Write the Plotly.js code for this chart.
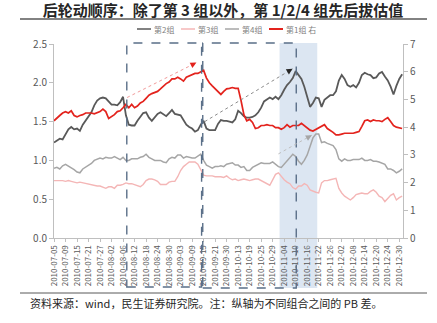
<!DOCTYPE html>
<html><head><meta charset="utf-8">
<script src="https://cdn.plot.ly/plotly-3.0.1.min.js"></script>
<style>html,body{margin:0;padding:0;background:#fff;}#chart{width:437px;height:323px;}</style>
</head><body><div id="chart"></div>
<script>
const dates = [
"2010-07-05","2010-07-06","2010-07-07","2010-07-08","2010-07-09","2010-07-12","2010-07-13","2010-07-14","2010-07-15","2010-07-16",
"2010-07-19","2010-07-20","2010-07-21","2010-07-22","2010-07-23","2010-07-26","2010-07-27","2010-07-28","2010-07-29","2010-07-30",
"2010-08-02","2010-08-03","2010-08-04","2010-08-05","2010-08-06","2010-08-09","2010-08-10","2010-08-11","2010-08-12","2010-08-13",
"2010-08-16","2010-08-17","2010-08-18","2010-08-19","2010-08-20","2010-08-23","2010-08-24","2010-08-25","2010-08-26","2010-08-27",
"2010-08-30","2010-08-31","2010-09-01","2010-09-02","2010-09-03","2010-09-06","2010-09-07","2010-09-08","2010-09-09","2010-09-10",
"2010-09-13","2010-09-14","2010-09-15","2010-09-16","2010-09-17","2010-09-20","2010-09-21","2010-09-27","2010-09-28","2010-09-29",
"2010-09-30","2010-10-08","2010-10-11","2010-10-12","2010-10-13","2010-10-14","2010-10-15","2010-10-18","2010-10-19","2010-10-20",
"2010-10-21","2010-10-22","2010-10-25","2010-10-26","2010-10-27","2010-10-28","2010-10-29","2010-11-01","2010-11-02","2010-11-03",
"2010-11-04","2010-11-05","2010-11-08","2010-11-09","2010-11-10","2010-11-11","2010-11-12","2010-11-15","2010-11-16","2010-11-17",
"2010-11-18","2010-11-19","2010-11-22","2010-11-23","2010-11-24","2010-11-25","2010-11-26","2010-11-29","2010-11-30","2010-12-01",
"2010-12-02","2010-12-03","2010-12-06","2010-12-07","2010-12-08","2010-12-09","2010-12-10","2010-12-13","2010-12-14","2010-12-15",
"2010-12-16","2010-12-17","2010-12-20","2010-12-21","2010-12-22","2010-12-23","2010-12-24","2010-12-27","2010-12-28","2010-12-29",
"2010-12-30","2010-12-31"];
const tickLabels = dates.filter((d, i) => i % 4 === 0);

// 第2组 (left axis)
const group2 = [
1.23,1.26,1.28,1.27,1.33,1.40,1.43,1.40,1.41,1.38,
1.46,1.51,1.57,1.62,1.71,1.77,1.80,1.81,1.80,1.76,
1.72,1.72,1.71,1.75,1.82,1.58,1.46,1.45,1.45,1.51,
1.56,1.61,1.62,1.55,1.51,1.55,1.60,1.62,1.59,1.57,
1.61,1.65,1.60,1.59,1.58,1.52,1.46,1.43,1.41,1.37,
1.39,1.46,1.51,1.41,1.39,1.39,1.39,1.47,1.52,1.51,
1.51,1.50,1.49,1.53,1.64,1.61,1.57,1.55,1.55,1.56,
1.58,1.62,1.68,1.76,1.78,1.81,1.79,1.82,1.79,1.84,
1.91,1.97,2.01,2.06,2.15,2.10,2.05,1.95,1.80,1.69,
1.74,1.81,1.80,1.69,1.78,1.81,1.84,1.84,1.89,2.03,
2.10,2.05,1.97,1.95,1.97,1.94,2.00,2.10,2.13,2.11,
2.10,2.06,2.07,2.12,2.14,2.08,2.03,1.95,1.85,1.96,
2.05,2.11];
// 第3组 (left axis)
const group3 = [
0.74,0.74,0.74,0.74,0.73,0.74,0.73,0.72,0.71,0.72,
0.71,0.70,0.70,0.69,0.68,0.67,0.67,0.65,0.64,0.66,
0.66,0.64,0.68,0.68,0.69,0.71,0.70,0.70,0.69,0.68,
0.66,0.69,0.74,0.76,0.76,0.75,0.73,0.69,0.69,0.69,
0.72,0.73,0.73,0.79,0.87,0.92,0.95,0.98,0.98,0.98,
0.95,0.87,0.81,0.80,0.80,0.80,0.79,0.79,0.79,0.78,
0.80,0.77,0.75,0.76,0.74,0.75,0.76,0.75,0.74,0.75,
0.76,0.76,0.74,0.71,0.70,0.68,0.75,0.82,0.84,0.79,
0.75,0.72,0.70,0.65,0.63,0.67,0.67,0.70,0.68,0.62,
0.60,0.59,0.58,0.71,0.74,0.74,0.75,0.76,0.77,0.64,
0.58,0.54,0.51,0.49,0.52,0.56,0.57,0.58,0.57,0.57,
0.60,0.62,0.59,0.54,0.52,0.47,0.51,0.55,0.57,0.49,
0.52,0.54];
// 第4组 (left axis)
const group4 = [
0.90,0.91,0.89,0.93,0.95,0.93,0.90,0.88,0.85,0.84,
0.89,0.91,0.93,0.96,1.00,1.02,1.03,1.02,1.04,1.03,
1.03,1.05,1.03,1.01,1.04,1.00,1.00,1.02,1.02,1.02,
1.04,1.05,1.08,1.04,1.02,1.00,1.00,1.00,0.98,0.97,
1.02,1.04,1.03,1.07,1.07,1.03,1.05,1.04,1.03,1.03,
1.05,1.08,1.00,0.94,0.92,0.90,0.92,0.92,0.93,0.92,
0.95,0.96,0.97,0.94,0.94,0.91,0.92,0.87,0.87,0.91,
0.93,0.95,0.97,0.96,0.96,0.96,0.98,0.95,0.92,0.91,
0.95,0.99,1.03,1.08,1.05,0.99,0.95,1.00,1.07,1.17,
1.29,1.34,1.34,1.23,1.24,1.22,1.20,1.19,1.14,1.02,
0.99,1.02,1.00,1.00,1.01,1.01,1.01,1.03,1.00,1.00,
1.01,0.99,0.99,0.98,0.97,0.95,0.89,0.89,0.87,0.84,
0.86,0.89];
// 第1组 (right axis)
const group1 = [
4.23,4.34,4.42,4.51,4.56,4.51,4.59,4.42,4.37,4.42,
4.45,4.51,4.51,4.51,4.48,4.51,4.56,4.65,4.56,4.31,
4.37,4.45,4.56,4.59,4.70,4.82,4.70,4.82,4.70,4.76,
4.87,4.93,5.04,5.15,5.21,5.24,5.29,5.38,5.49,5.57,
5.63,5.74,5.74,5.80,5.74,5.66,5.80,5.85,5.91,5.94,
5.94,5.99,6.05,5.77,5.60,5.49,5.38,5.26,5.18,5.29,
5.38,5.40,5.43,5.40,5.40,4.96,4.45,4.23,4.28,4.17,
3.95,3.98,4.06,4.06,4.09,4.06,4.06,3.98,3.98,3.92,
3.98,4.09,4.00,4.06,4.06,4.06,4.14,4.06,4.00,3.89,
3.86,3.92,4.00,4.06,4.09,3.95,3.89,3.81,3.72,3.72,
3.75,3.78,3.78,3.78,3.78,3.81,3.84,4.03,4.23,4.26,
4.20,4.26,4.23,4.23,4.20,4.28,4.34,4.20,4.06,4.00,
3.98,3.95];

const seriesNames = ["第2组", "第3组", "第4组", "第1组 右"];
const seriesColors = ["#595959", "#f4b6b6", "#a6a6a6", "#e3231d"];

// pixel helpers for layout items (plot area: x 54..403, y 44..238)
const L = 54, R = 403, T = 44, B = 238;
const px = v => (v - L) / (R - L);
const py = v => (B - v) / (B - T);

const traces = [
  {x: dates, y: group2, name: seriesNames[0], type: "scatter", mode: "lines", line: {color: seriesColors[0], width: 1.8}},
  {x: dates, y: group3, name: seriesNames[1], type: "scatter", mode: "lines", line: {color: seriesColors[1], width: 1.4}},
  {x: dates, y: group4, name: seriesNames[2], type: "scatter", mode: "lines", line: {color: seriesColors[2], width: 1.5}},
  {x: dates, y: group1, name: seriesNames[3], type: "scatter", mode: "lines", yaxis: "y2", line: {color: seriesColors[3], width: 1.7}}
];

const boxColor = "#5a6f88";
const shapes = [
  {type: "rect", xref: "x", yref: "paper", x0: 78.4, x1: 91.5, y0: py(288), y1: py(43), fillcolor: "#dce6f2", line: {width: 0}, layer: "below"},
  {type: "rect", xref: "x", yref: "paper", x0: 25.3, x1: 51.3, y0: py(287), y1: py(43), line: {color: boxColor, width: 1.4, dash: "dash"}},
  {type: "rect", xref: "x", yref: "paper", x0: 51.7, x1: 84.2, y0: py(288), y1: py(43), line: {color: boxColor, width: 1.4, dash: "dash"}},
  // arrows (dotted bodies)
  {type: "line", xref: "x", yref: "y", x0: 25.4, y0: 1.81, x1: 49.5, y1: 2.26, line: {color: "#f19a9a", width: 1, dash: "dot"}},
  {type: "line", xref: "x", yref: "y", x0: 52.4, y0: 1.50, x1: 82.9, y1: 2.18, line: {color: "#8c8c8c", width: 1, dash: "dot"}},
  {type: "line", xref: "x", yref: "y", x0: 78.0, y0: 1.084, x1: 89.6, y1: 1.325, line: {color: "#bfbfbf", width: 1, dash: "dot"}},
  // title underline and footer line
  {type: "line", xref: "paper", yref: "paper", x0: px(20), x1: px(427), y0: py(19), y1: py(19), line: {color: "#595959", width: 1.5}},
  {type: "line", xref: "paper", yref: "paper", x0: px(20), x1: px(427), y0: py(293), y1: py(293), line: {color: "#595959", width: 1}}
];

// manual legend
const legendX = [137, 181, 225, 269];
const legendY = 29;
const annotations = [];
seriesNames.forEach((n, k) => {
  shapes.push({type: "line", xref: "paper", yref: "paper", x0: px(legendX[k]), x1: px(legendX[k] + 14), y0: py(legendY), y1: py(legendY),
    line: {color: seriesColors[k], width: k === 3 ? 2 : 1.5}});
  annotations.push({xref: "paper", yref: "paper", x: px(legendX[k] + 15), y: py(legendY), xanchor: "left", yanchor: "middle",
    text: n, showarrow: false, font: {size: 8, color: "#7f7f7f"}});
});
// arrow heads
annotations.push({xref: "x", yref: "y", x: 49.5, y: 2.26, ax: -6.3, ay: 3.2, text: "", showarrow: true, arrowhead: 2, arrowsize: 1, arrowwidth: 1.2, arrowcolor: "#e3231d", standoff: 0});
annotations.push({xref: "x", yref: "y", x: 82.9, y: 2.18, ax: -6, ay: 3.6, text: "", showarrow: true, arrowhead: 2, arrowsize: 1, arrowwidth: 1.2, arrowcolor: "#262626", standoff: 0});
annotations.push({xref: "x", yref: "y", x: 89.6, y: 1.325, ax: -6.1, ay: 3.4, text: "", showarrow: true, arrowhead: 2, arrowsize: 1, arrowwidth: 1.2, arrowcolor: "#a6a6a6", standoff: 0});
// footer
annotations.push({xref: "paper", yref: "paper", x: px(28), y: py(303), xanchor: "left", yanchor: "middle", showarrow: false,
  text: "资料来源：wind，民生证券研究院。注：纵轴为不同组合之间的 PB 差。", font: {size: 11, color: "#262626"}});

const axisGray = "#bfbfbf";
const layout = {
  width: 437, height: 323,
  margin: {l: L, r: 437 - R, t: T, b: 323 - B},
  paper_bgcolor: "#fff", plot_bgcolor: "#fff",
  font: {family: "Noto Sans CJK SC, Noto Sans, sans-serif", color: "#595959"},
  showlegend: false,
  title: {text: "<b>后轮动顺序：除了第 3 组以外，第 1/2/4 组先后拔估值</b>", font: {size: 15, color: "#262626"},
    xref: "container", x: 223 / 437, xanchor: "center", yref: "container", y: 1 - 10.5 / 323, yanchor: "middle"},
  xaxis: {type: "category", range: [0, 121.3], tickmode: "array", tickvals: tickLabels, ticktext: tickLabels,
    tickangle: -90, tickfont: {size: 8, color: "#595959"}, showgrid: false, zeroline: false,
    showline: true, linecolor: axisGray, linewidth: 1, ticks: "outside", ticklen: 3, tickcolor: axisGray},
  yaxis: {range: [0, 2.5], dtick: 0.5, tickformat: ".1f", tickfont: {size: 10, color: "#595959"}, showgrid: false, zeroline: false,
    showline: true, linecolor: axisGray, linewidth: 1, ticks: "outside", ticklen: 4, tickcolor: axisGray},
  yaxis2: {range: [0, 7], dtick: 1, overlaying: "y", side: "right", tickfont: {size: 10, color: "#595959"}, showgrid: false, zeroline: false,
    showline: true, linecolor: axisGray, linewidth: 1, ticks: "outside", ticklen: 4, tickcolor: axisGray},
  shapes: shapes,
  annotations: annotations
};

Plotly.newPlot("chart", traces, layout, {displayModeBar: false, staticPlot: true});
</script>
</body></html>
